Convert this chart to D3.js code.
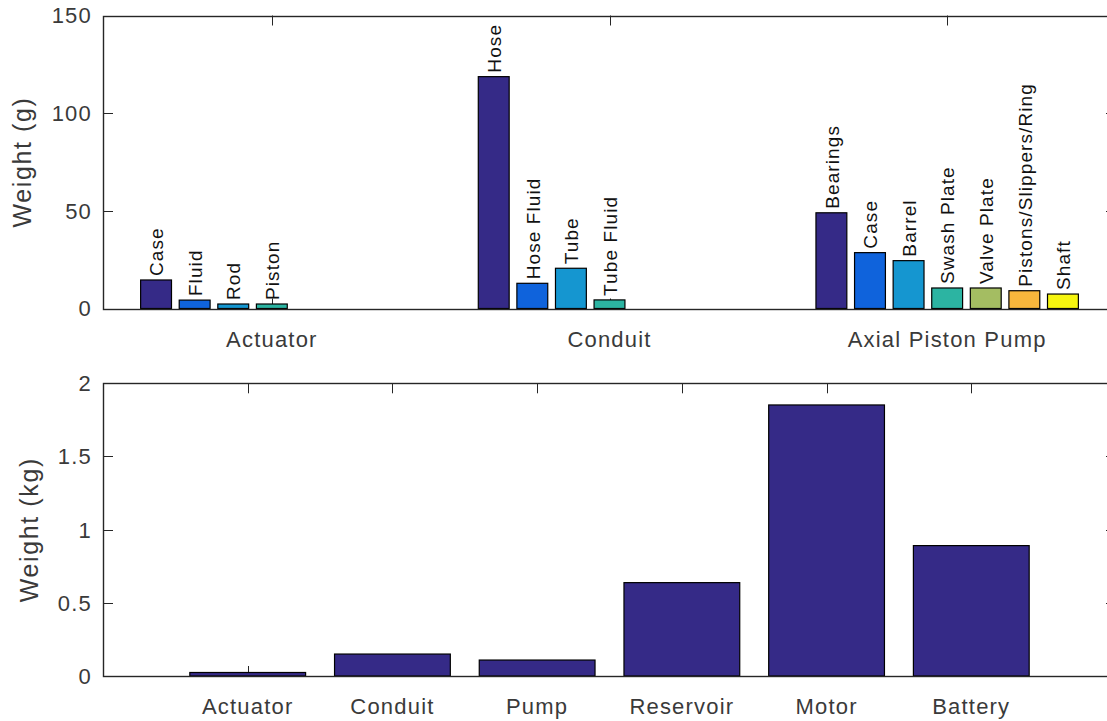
<!DOCTYPE html>
<html>
<head>
<meta charset="utf-8">
<script src="https://cdn.jsdelivr.net/npm/d3@7"></script>
<style>
  html, body { margin: 0; padding: 0; background: #fff; }
  svg { display: block; font-family: "Liberation Sans", Arial, Helvetica, sans-serif; }
</style>
</head>
<body>
<svg id="chart" width="1107" height="721"></svg>
<script>
// Component breakdown (grams), one group per subsystem
const groups = ["Actuator", "Conduit", "Axial Piston Pump"];

const actuatorParts   = ["Case", "Fluid", "Rod", "Piston"];
const actuatorWeights = [14.6, 4.3, 2.3, 2.3];

const conduitParts   = ["Hose", "Hose Fluid", "Tube", "Tube Fluid"];
const conduitWeights = [118.7, 12.9, 20.6, 4.4];

const pumpParts   = ["Bearings", "Case", "Barrel", "Swash Plate", "Valve Plate", "Pistons/Slippers/Ring", "Shaft"];
const pumpWeights = [49.0, 28.6, 24.5, 10.5, 10.5, 9.1, 7.4];

const partTicks = [0, 50, 100, 150];

// Subsystem totals (kilograms)
const subsystems       = ["Actuator", "Conduit", "Pump", "Reservoir", "Motor", "Battery"];
const subsystemWeights = [0.024, 0.150, 0.109, 0.638, 1.852, 0.891];

const totalTicks = [0, 0.5, 1, 1.5, 2];

// Parula-like series colours
const seriesColors = ["#352a87", "#0f63dc", "#1596d0", "#2cb4a2", "#a4bd62", "#f8b73c", "#f6f50f"];

const svg = d3.select("#chart");
const axisColor = "#262626";
const tickTextColor = "#3a3a3a";
const tickFont = 22;
const labelFont = 19;
const tickLen = 10;

function drawFrame(g, x, y, xTicks, xLabels, yTicks, yFmt, yTitle, yTitleX) {
  const [x0, x1] = x.range();
  const [yb, yt] = y.range();

  // tick marks (inward, on all four sides)
  const ticks = g.append("g").attr("stroke", axisColor).attr("stroke-width", 1);
  xTicks.forEach(v => {
    const px = Math.round(x(v)) + 0.5;
    ticks.append("line").attr("x1", px).attr("x2", px).attr("y1", yb).attr("y2", yb - tickLen);
    ticks.append("line").attr("x1", px).attr("x2", px).attr("y1", yt).attr("y2", yt + tickLen);
  });
  yTicks.forEach(v => {
    const py = Math.round(y(v)) + 0.5;
    ticks.append("line").attr("x1", x0).attr("x2", x0 + tickLen).attr("y1", py).attr("y2", py);
    ticks.append("line").attr("x1", x1).attr("x2", x1 - tickLen).attr("y1", py).attr("y2", py);
  });

  // tick labels
  g.append("g").selectAll("text").data(yTicks).join("text")
    .attr("x", x0 - 11)
    .attr("y", d => y(d))
    .attr("dy", "0.36em")
    .attr("text-anchor", "end")
    .attr("font-size", tickFont)
    .attr("letter-spacing", "1.2px")
    .attr("fill", tickTextColor)
    .text(yFmt);

  g.append("g").selectAll("text").data(xTicks).join("text")
    .attr("x", d => x(d))
    .attr("y", yb + 38)
    .attr("text-anchor", "middle")
    .attr("font-size", tickFont)
    .attr("letter-spacing", "1.2px")
    .attr("fill", tickTextColor)
    .text((d, i) => xLabels[i]);

  // y axis title
  g.append("text")
    .attr("transform", `translate(${yTitleX},${(yb + yt) / 2}) rotate(-90)`)
    .attr("text-anchor", "middle")
    .attr("font-size", 25)
    .attr("letter-spacing", "1.6px")
    .attr("fill", tickTextColor)
    .text(yTitle);
}

function drawBox(g, x, y) {
  const [x0, x1] = x.range();
  const [yb, yt] = y.range();
  g.append("rect")
    .attr("x", x0 + 0.5).attr("y", Math.round(yt) + 0.5)
    .attr("width", x1 - x0).attr("height", Math.round(yb) - Math.round(yt))
    .attr("fill", "none")
    .attr("stroke", axisColor)
    .attr("stroke-width", 1.4);
}

// ---------- Top panel: grouped component weights ----------
{
  const x = d3.scaleLinear().domain([0.5, 3.5]).range([103, 1116]);
  const y = d3.scaleLinear().domain([0, 150]).range([308.5, 15.5]);
  const g = svg.append("g");

  drawFrame(g, x, y, [1, 2, 3], groups, partTicks, d => d, "Weight (g)", 31);

  const nSeries = 7;
  const groupWidth = Math.min(0.8, nSeries / (nSeries + 1.5));
  const slot = groupWidth / nSeries;
  const barW = slot * 0.8;

  const rows = [
    { parts: actuatorParts, weights: actuatorWeights },
    { parts: conduitParts, weights: conduitWeights },
    { parts: pumpParts, weights: pumpWeights }
  ];

  const bars = [];
  rows.forEach((row, gi) => {
    row.weights.forEach((w, si) => {
      const cx = (gi + 1) + (si - (nSeries - 1) / 2) * slot;
      bars.push({ cx, w, name: row.parts[si], color: seriesColors[si] });
    });
  });

  g.append("g").selectAll("rect").data(bars).join("rect")
    .attr("x", d => x(d.cx - barW / 2))
    .attr("width", d => x(d.cx + barW / 2) - x(d.cx - barW / 2))
    .attr("y", d => y(d.w))
    .attr("height", d => y(0) - y(d.w))
    .attr("fill", d => d.color)
    .attr("stroke", "#000")
    .attr("stroke-width", 1.2);

  g.append("g").selectAll("text").data(bars).join("text")
    .attr("transform", d => `translate(${x(d.cx)},${y(d.w) - 4}) rotate(-90)`)
    .attr("dy", "0.38em")
    .attr("font-size", labelFont)
    .attr("letter-spacing", "1.1px")
    .attr("fill", "#111")
    .text(d => d.name);

  drawBox(g, x, y);
}

// ---------- Bottom panel: subsystem totals ----------
{
  const x = d3.scaleLinear().domain([0, 7]).range([103, 1116]);
  const y = d3.scaleLinear().domain([0, 2]).range([676, 383.3]);
  const g = svg.append("g");
  const idx = subsystems.map((s, i) => i + 1);

  drawFrame(g, x, y, idx, subsystems, totalTicks, d => d, "Weight (kg)", 38);

  const barW = 0.8;
  g.append("g").selectAll("rect").data(subsystemWeights).join("rect")
    .attr("x", (d, i) => x(i + 1 - barW / 2))
    .attr("width", x(barW) - x(0))
    .attr("y", d => y(d))
    .attr("height", d => y(0) - y(d))
    .attr("fill", seriesColors[0])
    .attr("stroke", "#000")
    .attr("stroke-width", 1.2);

  drawBox(g, x, y);
}
</script>
</body>
</html>
